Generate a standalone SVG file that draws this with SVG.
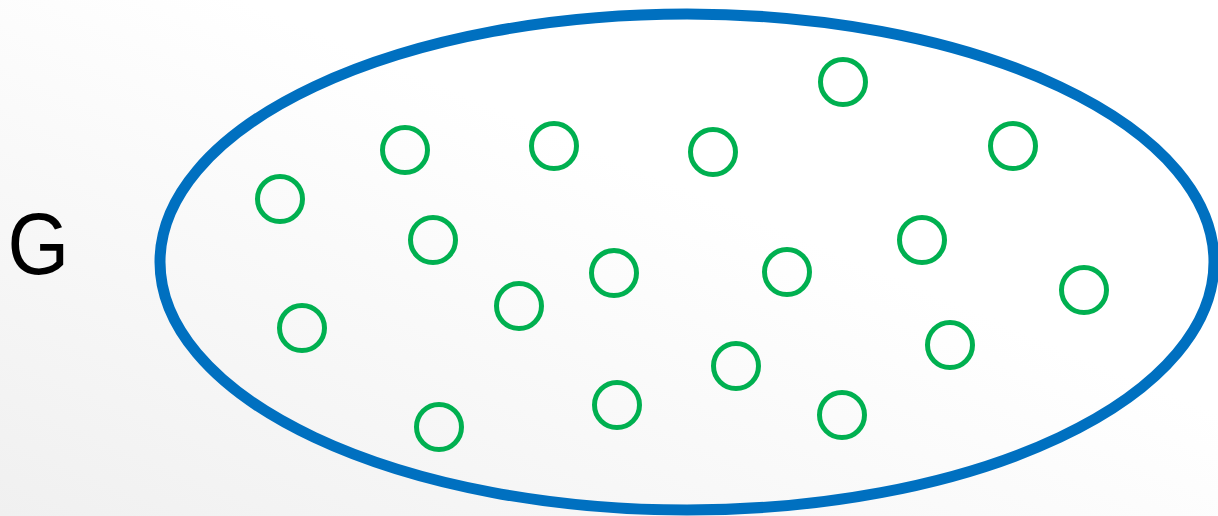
<svg xmlns="http://www.w3.org/2000/svg" width="1218" height="516" viewBox="0 0 1218 516">
<defs>
<linearGradient id="bg" x1="0" y1="1" x2="1" y2="0">
<stop offset="0" stop-color="#f0f0f0"/>
<stop offset="0.6" stop-color="#ffffff"/>
<stop offset="1" stop-color="#ffffff"/>
</linearGradient>
<style>
.pt{fill:none;stroke:#00B050;stroke-width:5}
.set{fill:none;stroke:#0070C0;stroke-width:11}
.lbl{font-family:"Liberation Sans",Arial,sans-serif;font-size:88px;fill:#000}
</style>
</defs>
<rect width="1218" height="516" fill="url(#bg)"/>
<g id="set-G">
<ellipse class="set" cx="687" cy="262" rx="527" ry="248"/>
</g>
<text class="lbl" x="6" y="274" transform="translate(2 0) scale(0.9 1)">G</text>
<g id="elements">
<circle class="pt" cx="843" cy="82" r="22.5"/>
<circle class="pt" cx="405" cy="150" r="22.5"/>
<circle class="pt" cx="554" cy="146" r="22.5"/>
<circle class="pt" cx="713" cy="152" r="22.5"/>
<circle class="pt" cx="1013" cy="146" r="22.5"/>
<circle class="pt" cx="280" cy="199" r="22.5"/>
<circle class="pt" cx="433" cy="240" r="22.5"/>
<circle class="pt" cx="922" cy="240" r="22.5"/>
<circle class="pt" cx="614" cy="273" r="22.5"/>
<circle class="pt" cx="787" cy="272" r="22.5"/>
<circle class="pt" cx="1084" cy="290" r="22.5"/>
<circle class="pt" cx="519" cy="306" r="22.5"/>
<circle class="pt" cx="302" cy="328" r="22.5"/>
<circle class="pt" cx="950" cy="345" r="22.5"/>
<circle class="pt" cx="736" cy="366" r="22.5"/>
<circle class="pt" cx="617" cy="405" r="22.5"/>
<circle class="pt" cx="842" cy="415" r="22.5"/>
<circle class="pt" cx="439" cy="427" r="22.5"/>
</g>
<g id="connectors"/>
</svg>
